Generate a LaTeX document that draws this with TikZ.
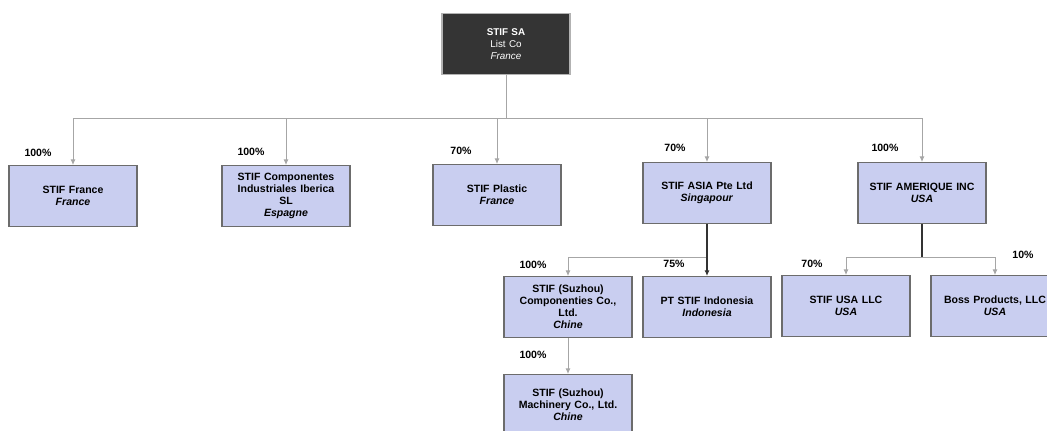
\documentclass[tikz,border=0pt]{standalone}
\usepackage{fontspec}
\setmainfont{Liberation Sans}
\usetikzlibrary{positioning,arrows.meta}
\definecolor{boxfill}{RGB}{201,206,240}
\definecolor{headfill}{RGB}{52,52,52}

\begin{document}
\begin{tikzpicture}[
x=0.025cm, y=-0.025cm,
entitynode/.style={rectangle, draw=gray!85!black, fill=boxfill, line width=0.8pt, minimum width=3.2cm, minimum height=1.52cm, text width=3.05cm, align=center, inner sep=1pt, font=\fontsize{7.5}{8.5}\selectfont\bfseries},
headnode/.style={entitynode, fill=headfill, draw=gray!60, text=white, font=\fontsize{7}{8.5}\selectfont},
pct/.style={font=\fontsize{7.5}{9}\selectfont\bfseries},
link/.style={draw=gray!70, line width=0.6pt},
strong/.style={draw=black!80, line width=0.9pt},
>={Latex[length=4pt,width=3.5pt]},
]
\useasboundingbox (0,0) rectangle (1047,430);

%Nodes
\node[headnode]   (sa)    at (506,44)  {\textbf{STIF SA}\\List Co\\\textit{France}};

\node[entitynode] (fr)    at (73,196)  {STIF France\\\textit{France}};
\node[entitynode] (es)    at (286,196) {STIF Componentes\\Industriales Iberica\\SL\\\textit{Espagne}};
\node[entitynode] (pl)    at (497,195) {STIF Plastic\\\textit{France}};
\node[entitynode] (asia)  at (707,193) {STIF ASIA Pte Ltd\\\textit{Singapour}};
\node[entitynode] (am)    at (922,193) {STIF AMERIQUE INC\\\textit{USA}};

\node[entitynode] (szc)   at (568,307) {STIF (Suzhou)\\Componenties Co.,\\Ltd.\\\textit{Chine}};
\node[entitynode] (indo)  at (707,307) {PT STIF Indonesia\\\textit{Indonesia}};
\node[entitynode] (usa)   at (846,306) {STIF USA LLC\\\textit{USA}};
\node[entitynode] (boss)  at (995,306) {Boss Products, LLC\\\textit{USA}};
\node[entitynode] (szm)   [below=0.9cm of szc] {STIF (Suzhou)\\Machinery Co., Ltd.\\\textit{Chine}};

%Percentages
\node[pct] (p1)  at (38,153)   {100\%};
\node[pct] (p2)  at (251,152)  {100\%};
\node[pct] (p3)  at (461,151)  {70\%};
\node[pct] (p4)  at (675,148)  {70\%};
\node[pct] (p5)  at (885,148)  {100\%};
\node[pct] (p6)  at (533,265)  {100\%};
\node[pct] (p7)  at (674,264)  {75\%};
\node[pct] (p8)  at (812,264)  {70\%};
\node[pct] (p9)  at (1023,255) {10\%};
\node[pct] (p10) at (533,355)  {100\%};

%Lines
\coordinate (bus1) at (506,118);
\coordinate (bus2) at (707,257);
\coordinate (bus3) at (922,257);

\draw[link] (sa) -- (bus1);
\draw[link,->] (bus1) -| (fr);
\draw[link,->] (bus1) -| (es);
\draw[link,->] (bus1) -| (pl);
\draw[link,->] (bus1) -| (asia);
\draw[link,->] (bus1) -| (am);

\draw[link,->] (bus2) -| (szc);
\draw[strong,->] (asia) -- (indo);

\draw[strong] (am) -- (bus3);
\draw[link,->] (bus3) -| (usa);
\draw[link,->] (bus3) -| (boss);

\draw[link,->] (szc) -- (szm);

\end{tikzpicture}
\end{document}
